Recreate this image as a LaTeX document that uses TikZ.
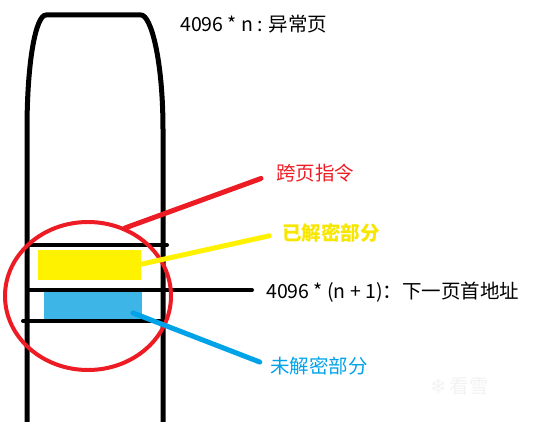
\documentclass[tikz,border=0pt]{standalone}
\usepackage{fontspec}
\setmainfont{Noto Sans CJK SC}
\newfontfamily\symfont{DejaVu Sans}
\definecolor{pred}{HTML}{ED1C24}
\definecolor{pyel}{HTML}{FFF200}
\definecolor{pyeltxt}{HTML}{F7E600}
\definecolor{pblue}{HTML}{3DB5E6}
\definecolor{pbluel}{HTML}{00A2E8}
\tikzset{
  outline/.style={line width=5pt, line cap=round, line join=round},
  rule/.style={line width=4pt, line cap=round},
  lbl/.style={anchor=west, inner sep=0pt, font=\fontsize{19.5}{22}\selectfont},
  conn/.style={line width=5pt, line cap=round},
}
\begin{document}
\begin{tikzpicture}[x=1pt,y=-1pt]
\useasboundingbox (0,0) rectangle (537,422);
% column
\draw[outline] (27,424) -- (27,130) .. controls (27,60) and (36,15) .. (46,15)
  -- (141,15) .. controls (151,15) and (163,60) .. (163,130) -- (163,424);
% fills
\fill[pyel] (38,250) rectangle (141,280);
\fill[pblue] (44,292) rectangle (142,320);
% rules
\draw[rule] (27,245) -- (167,245);
\draw[rule] (27,290) -- (252,290);
\draw[rule] (23,321) -- (160,321);
% red ellipse
\draw[pred, line width=4pt] (88,296) ellipse [x radius=83, y radius=74];
% labels
\node[lbl] (top) at (180,24) {4096 * n : 异常页};
\node[lbl, text=pred] (kua) at (276,173) {跨页指令};
\node[lbl, text=pyeltxt, font=\fontsize{19.5}{22}\selectfont\bfseries] (yi) at (282,233) {已解密部分};
\node[lbl] (next) at (266,292) {4096 * (n + 1)：下一页首地址};
\node[lbl, text=pbluel] (wei) at (270,366) {未解密部分};
\node[lbl, text=gray!10] (wm) at (430,386) {{\symfont ❄}\,看雪};
% connectors
\coordinate (rs) at (125,228);
\coordinate (ys) at (142,264);
\coordinate (bs) at (133,313);
\draw[conn, pred, shorten >=16pt] (rs) -- (kua.west);
\draw[conn, pyel, shorten >=13pt] (ys) -- (yi.west);
\draw[conn, pbluel, shorten >=11pt] (bs) -- (wei.west);
\end{tikzpicture}
\end{document}
